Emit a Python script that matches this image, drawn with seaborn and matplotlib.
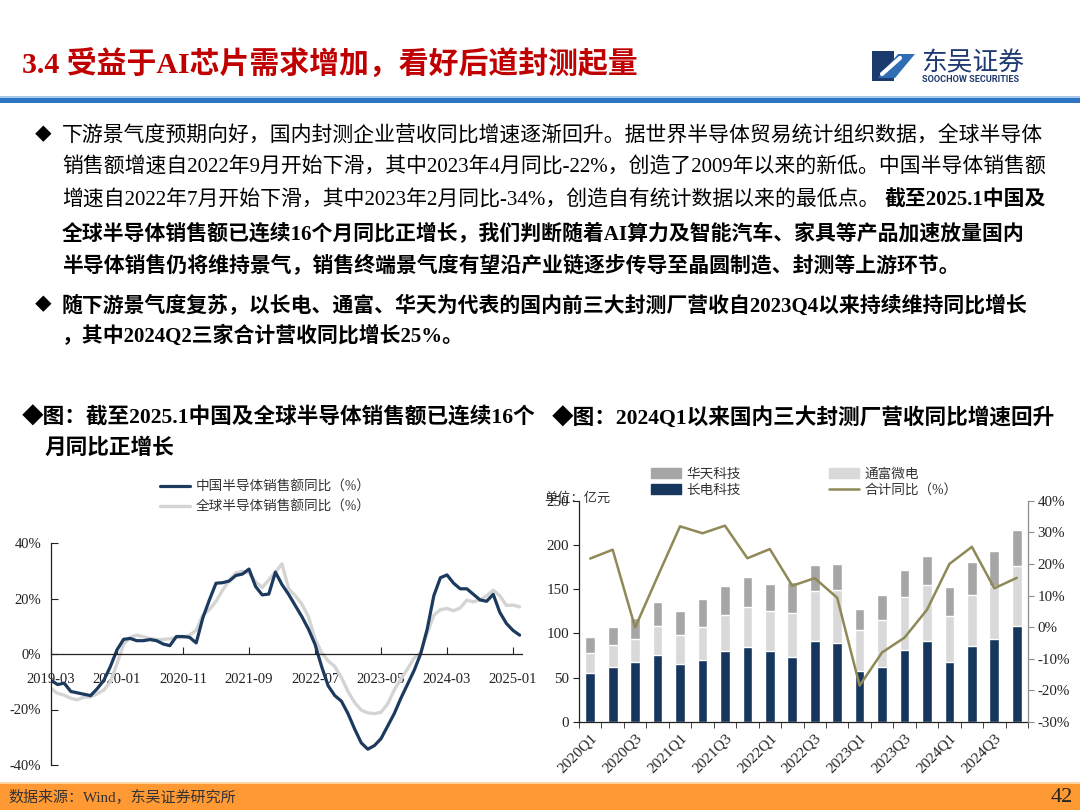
import numpy as np
import pandas as pd
import matplotlib
matplotlib.use("Agg")
import matplotlib.pyplot as plt
import seaborn as sns
from matplotlib.lines import Line2D
from matplotlib.patches import Patch, Rectangle, Polygon

sns.set_style("white")
FONT = ["Liberation Serif", "Noto Sans CJK SC", "DejaVu Sans"]
plt.rcParams["font.family"] = FONT
plt.rcParams["axes.unicode_minus"] = False

W, H = 1080, 810

# ---- 左图：中国 / 全球半导体销售额同比（%），2019-03 ~ 2025-02 月度
month_labels = pd.date_range("2019-03-01", periods=72, freq="MS").strftime("%Y-%m").tolist()
china_yoy = [
    -9.5, -11, -10.5, -13.5, -14, -14.5, -15, -12.5, -9.5, -4.5,
    1.5, 5.3, 5.6, 4.8, 4.8, 5.2, 4.8, 3.6, 3.0, 6.3, 6.3, 6.0,
    4.0, 13.0, 19.5, 25.5, 25.7, 26.3, 28.3, 28.8, 30.6, 24.3, 21.3, 21.6,
    29.5, 25.0, 21.5, 17.5, 13.5, 9.0, 3.5, -4.5, -11.5, -15, -17, -21.5,
    -27, -32, -34.3, -33, -30.5, -26, -21.5, -16, -11, -6, 0, 9,
    21, 27.5, 28.5, 25.5, 23.5, 23.5, 21.5, 19.5, 19.0, 21.5, 15, 11,
    8.5, 6.8,
]
world_yoy = [
    -12.5, -14.2, -14.8, -16, -16.5, -15.5, -15.5, -14.3, -13, -10,
    -3.5, 3.5, 6, 6.8, 6.2, 5.6, 5.2, 5.2, 5.5, 5.9, 6.0, 6.8,
    8.6, 14, 16, 19, 23, 26.5, 29.2, 29.8, 29.2, 26, 24, 26.7,
    29.5, 32.5, 23.5, 21, 18, 13.5, 5.5, 0.5, -2.5, -4.5, -8.5, -13.5,
    -17.5, -20.2, -21.2, -21.5, -21, -18, -13, -9, -5.5, -1.5, 0.5, 7.5,
    14, 16, 16.4, 15.6, 16.6, 19.4, 18.8, 19.5, 21, 23, 21, 17.5,
    17.6, 17,
]
left_yticks = [-40, -20, 0, 20, 40]

# ---- 右图：三大封测厂季度营收（亿元）与合计同比（%）
quarters = [f"{y}Q{q}" for y in range(2020, 2025) for q in range(1, 5)]
changdian = [55.6, 61.9, 67.3, 75.9, 65.8, 70.0, 79.8, 84.8, 80.5, 73.5,
             91.0, 88.7, 57.6, 61.9, 81.7, 91.8, 67.3, 85.6, 94.2, 108.6]
tongfu = [22.2, 24.9, 26.9, 33.1, 32.6, 37.8, 40.8, 45.6, 44.5, 49.8,
          56.9, 60.7, 46.7, 52.9, 59.9, 62.7, 52.2, 58.0, 59.0, 67.3]
huatian = [17.9, 21.0, 23.3, 26.8, 27.3, 31.2, 33.4, 33.8, 31.0, 34.3,
           29.9, 29.6, 22.9, 29.2, 30.4, 33.0, 32.6, 36.6, 39.6, 40.8]
total_yoy = [21.7, 24.5, -0.1, 16.0, 31.9, 29.7, 32.1, 21.8, 24.7, 13.1,
             15.5, 9.3, -18.5, -8.0, -3.3, 5.5, 20.0, 25.4, 12.3, 15.6]
right_yticks = [-30, -20, -10, 0, 10, 20, 30, 40]

NAVY = "#1B3A5E"
GREY_LINE = "#D4D4D4"
DARK = "#17365D"
LIGHT = "#D9D9D9"
MID = "#A6A6A6"
OLIVE = "#8E8956"
RED = "#C00000"

fig = plt.figure(figsize=(W / 100, H / 100), dpi=100)

# 背景层：页眉、正文、页脚（像素坐标）
bg = fig.add_axes([0, 0, 1, 1])
bg.set_xlim(0, W)
bg.set_ylim(H, 0)
bg.axis("off")


def txt(x, y, s, size, weight="normal", color="black", ha="left", family=FONT):
    bg.text(x, y, s, fontsize=size, fontweight=weight, color=color,
            ha=ha, va="center", family=family)


txt(22, 65, "3.4 受益于AI芯片需求增加，看好后道封测起量", 21.5, "bold", RED)

# logo
bg.add_patch(Rectangle((872, 51), 22, 30, color="#1B3B6F", lw=0))
bg.add_patch(Polygon([[878, 78], [898, 54], [915, 54], [895, 78]], closed=True,
                     color="#2F6DB5", lw=0))
bg.plot([882, 900], [74, 58], color="white", lw=3, solid_capstyle="round")
txt(921, 63, "东吴证券", 18.5, color="#1F3A70", family=["Noto Sans CJK SC"])
txt(922, 80, "SOOCHOW SECURITIES", 6.6, "bold", "#1F3A70", family=["Roboto", "DejaVu Sans"])

bg.add_patch(Rectangle((0, 96), W, 1.5, color="#A9C9EA", lw=0))
bg.add_patch(Rectangle((0, 97.5), W, 5, color="#2E75C4", lw=0))

# 正文
body = 15
txt(35, 136, "◆", 12)
txt(62, 136, "下游景气度预期向好，国内封测企业营收同比增速逐渐回升。据世界半导体贸易统计组织数据，全球半导体", body)
txt(62, 168, "销售额增速自2022年9月开始下滑，其中2023年4月同比-22%，创造了2009年以来的新低。中国半导体销售额", body)
txt(62, 201, "增速自2022年7月开始下滑，其中2023年2月同比-34%，创造自有统计数据以来的最低点。", body)
txt(1046, 201, "截至2025.1中国及", body, "bold", ha="right")
txt(62, 234, "全球半导体销售额已连续16个月同比正增长，我们判断随着AI算力及智能汽车、家具等产品加速放量国内", body, "bold")
txt(62, 267, "半导体销售仍将维持景气，销售终端景气度有望沿产业链逐步传导至晶圆制造、封测等上游环节。", body, "bold")
txt(35, 306, "◆", 12)
txt(62, 306, "随下游景气度复苏，以长电、通富、华天为代表的国内前三大封测厂营收自2023Q4以来持续维持同比增长", body, "bold")
txt(62, 336, "，其中2024Q2三家合计营收同比增长25%。", body, "bold")

# 图标题
cap = 15.6
txt(22, 418, "◆图：截至2025.1中国及全球半导体销售额已连续16个", cap, "bold")
txt(45, 449, "月同比正增长", cap, "bold")
txt(552, 418, "◆图：2024Q1以来国内三大封测厂营收同比增速回升", cap, "bold")

# 页脚
bg.add_patch(Rectangle((0, 782), W, 2, color="#FFD4A3", lw=0))
bg.add_patch(Rectangle((0, 784), W, 26, color="#FF9933", lw=0))
txt(8, 797, "数据来源：Wind，东吴证券研究所", 10.8, color="#333333")
txt(1073, 797, "42", 16, color="#222222", ha="right")

# ---- 左图
ax1 = fig.add_axes([51 / W, 1 - 765 / H, 470.6 / W, 222 / H])
ax1.patch.set_alpha(0)
x_idx = np.arange(len(china_yoy))
sns.lineplot(x=x_idx, y=world_yoy, ax=ax1, color=GREY_LINE, lw=2.4)
sns.lineplot(x=x_idx, y=china_yoy, ax=ax1, color=NAVY, lw=2.3)
ax1.set_xlim(0, 71.3)
ax1.set_ylim(-40, 40)
ax1.spines["bottom"].set_position(("data", 0))
for s in ["top", "right"]:
    ax1.spines[s].set_visible(False)
for s in ["bottom", "left"]:
    ax1.spines[s].set_color("#222222")
    ax1.spines[s].set_linewidth(0.9)
ax1.set_xticks(x_idx[::10])
ax1.set_xticklabels(month_labels[::10])
ax1.set_yticks(left_yticks)
ax1.set_yticklabels([f"{v}%" for v in left_yticks])
ax1.tick_params(axis="x", bottom=True, direction="in", length=5, pad=14,
                labelsize=10.5, colors="#222222")
ax1.tick_params(axis="y", left=True, direction="in", length=5, pad=7,
                labelsize=10.5, colors="#222222")
ax1.set_xlabel("")
ax1.set_ylabel("")

fig.legend([Line2D([], [], color=NAVY, lw=2.3), Line2D([], [], color=GREY_LINE, lw=2.4)],
           ["中国半导体销售额同比（%）", "全球半导体销售额同比（%）"],
           loc="upper left", bbox_to_anchor=(160 / W, 1 - 481 / H), frameon=False,
           fontsize=9.8, handlelength=2.2, handletextpad=0.45, labelspacing=0.45,
           borderpad=0, borderaxespad=0, labelcolor="#333333")

# ---- 右图
ax2 = fig.add_axes([579 / W, 1 - 722 / H, 449 / W, 221.3 / H])
ax2.patch.set_alpha(0)
cd = np.array(changdian)
tf = np.array(tongfu)
ht = np.array(huatian)
sns.barplot(x=quarters, y=cd + tf + ht, color=MID, width=0.43, saturation=1,
            errorbar=None, ax=ax2)
sns.barplot(x=quarters, y=cd + tf, color=LIGHT, width=0.43, saturation=1,
            errorbar=None, ax=ax2)
sns.barplot(x=quarters, y=cd, color=DARK, width=0.43, saturation=1,
            errorbar=None, ax=ax2)
ax2.set_xlim(-0.5, 19.5)
ax2.set_ylim(0, 250)
ax2.set_yticks([0, 50, 100, 150, 200, 250])
ax2.set_xlabel("")
ax2.set_ylabel("")

ax3 = ax2.twinx()
sns.lineplot(x=quarters, y=total_yoy, ax=ax3, color=OLIVE, lw=1.8, sort=False)
ax3.set_ylim(-30, 40)
ax3.set_yticks(right_yticks)
ax3.set_yticklabels([f"{v}%" for v in right_yticks])
ax3.set_ylabel("")
ax2.set_xlim(-0.5, 19.5)

for s in ["top", "right"]:
    ax2.spines[s].set_visible(False)
for s in ["top", "left", "bottom"]:
    ax3.spines[s].set_visible(False)
ax3.spines["right"].set_color("#8C8C8C")
ax3.spines["right"].set_linewidth(0.9)
for s in ["left", "bottom"]:
    ax2.spines[s].set_color("#222222")
    ax2.spines[s].set_linewidth(0.9)

ax2.set_xticks(range(0, 20, 2))
ax2.set_xticklabels(quarters[::2], rotation=45, ha="right", rotation_mode="anchor")
ax2.set_xticks(np.arange(-0.5, 20, 1), minor=True)
ax2.tick_params(axis="x", which="major", bottom=True, length=0, pad=7,
                labelsize=11, colors="#222222")
ax2.tick_params(axis="x", which="minor", bottom=True, length=4, direction="out",
                color="#222222")
ax2.tick_params(axis="y", left=True, length=4, direction="out", pad=3,
                labelsize=10.8, colors="#222222")
ax3.tick_params(axis="y", right=True, length=4, direction="out", pad=3,
                labelsize=10.8, color="#8C8C8C", labelcolor="#222222")

fig.legend([Patch(color=MID), Patch(color=DARK), Patch(color=LIGHT),
            Line2D([], [], color=OLIVE, lw=1.8)],
           ["华天科技", "长电科技", "通富微电", "合计同比（%）"],
           ncol=2, loc="upper left", bbox_to_anchor=(651 / W, 1 - 468 / H),
           frameon=False, fontsize=9.8, handlelength=2.2, handleheight=0.7,
           handletextpad=0.4, labelspacing=0.2, columnspacing=6.5,
           borderpad=0, borderaxespad=0, labelcolor="#333333")

# 与原图一致：单位文字压在 250 刻度上
txt(544, 498, "单位：亿元", 9.5, color="#333333")

plt.savefig("out.png", dpi=100)
